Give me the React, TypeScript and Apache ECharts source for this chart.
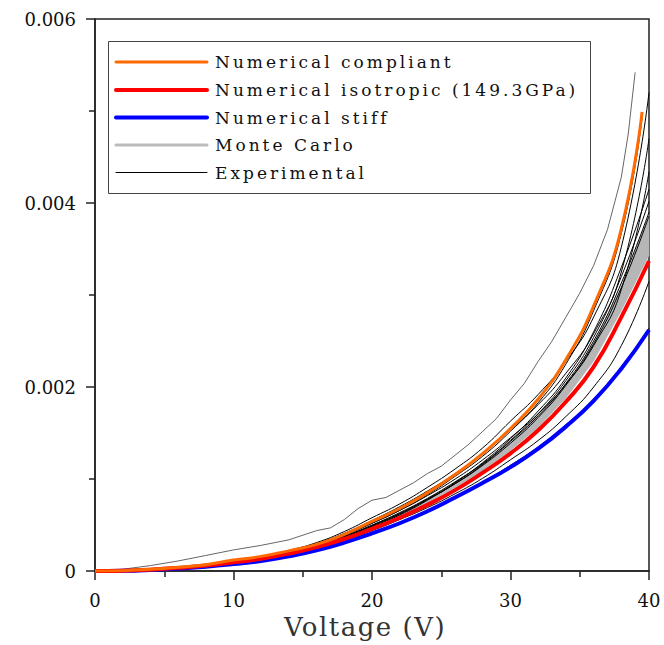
import React, { useEffect, useRef } from "react";
import * as echarts from "echarts";

// ---------- data ----------
const X_TICK_STEP = 10;
const Y_TICK_STEP = 0.002;
const K = 0.001; // the value lists below are written in units of 1e-3

const X_GRID = [0, 2, 4, 6, 8, 10, 12, 14, 16, 18, 20, 22, 24, 26, 28, 30, 32, 34, 36, 38, 40];
const X_ORANGE = [0, 2, 4, 6, 8, 10, 12, 14, 16, 18, 20, 22, 24, 26, 28, 30, 32, 34, 36, 38, 39.5];

const ORANGE = [0, 0.005, 0.02, 0.042, 0.07, 0.12, 0.16, 0.22, 0.29, 0.4, 0.54, 0.68, 0.85, 1.05, 1.28, 1.55, 1.87, 2.3, 2.88, 3.72, 4.99];
const RED = [0, 0.004, 0.016, 0.035, 0.06, 0.095, 0.135, 0.19, 0.26, 0.35, 0.46, 0.58, 0.72, 0.88, 1.07, 1.28, 1.53, 1.84, 2.22, 2.76, 3.37];
const BLUE = [0, 0.003, 0.013, 0.028, 0.048, 0.076, 0.11, 0.16, 0.225, 0.31, 0.41, 0.52, 0.65, 0.8, 0.96, 1.13, 1.33, 1.57, 1.85, 2.2, 2.62];

const MC_LOW = [0, 0.004, 0.016, 0.036, 0.061, 0.097, 0.137, 0.195, 0.265, 0.355, 0.47, 0.595, 0.74, 0.905, 1.09, 1.31, 1.56, 1.88, 2.28, 2.83, 3.43];
const MC_HIGH = [0, 0.004, 0.017, 0.038, 0.065, 0.102, 0.145, 0.205, 0.28, 0.38, 0.5, 0.635, 0.79, 0.97, 1.17, 1.4, 1.68, 2.02, 2.47, 3.09, 3.88];

const EXP_A = [0, 0.005, 0.02, 0.042, 0.07, 0.11, 0.16, 0.225, 0.31, 0.43, 0.58, 0.73, 0.91, 1.11, 1.34, 1.63, 1.92, 2.28, 2.76, 3.52, 5.2];
const EXP_K = [0, 0.005, 0.019, 0.04, 0.07, 0.105, 0.155, 0.215, 0.3, 0.41, 0.55, 0.7, 0.87, 1.06, 1.28, 1.54, 1.81, 2.15, 2.58, 3.25, 4.7];
const EXP_C = [0, 0.005, 0.018, 0.038, 0.065, 0.1, 0.15, 0.21, 0.29, 0.39, 0.52, 0.66, 0.82, 1.0, 1.21, 1.45, 1.71, 2.03, 2.45, 3.06, 4.34];
const EXP_G = [0, 0.004, 0.016, 0.035, 0.06, 0.095, 0.138, 0.195, 0.27, 0.36, 0.48, 0.61, 0.77, 0.96, 1.18, 1.44, 1.74, 2.1, 2.6, 3.3, 4.15];
const EXP_D = [0, 0.004, 0.017, 0.037, 0.063, 0.099, 0.145, 0.205, 0.28, 0.38, 0.5, 0.635, 0.79, 0.97, 1.17, 1.42, 1.71, 2.07, 2.54, 3.2, 4.02];
const EXP_E = [0, 0.004, 0.016, 0.036, 0.06, 0.097, 0.14, 0.2, 0.27, 0.37, 0.49, 0.62, 0.78, 0.95, 1.16, 1.41, 1.69, 2.04, 2.5, 3.13, 3.9];
const EXP_F = [0, 0.004, 0.017, 0.037, 0.062, 0.098, 0.142, 0.2, 0.275, 0.37, 0.495, 0.625, 0.78, 0.95, 1.15, 1.39, 1.67, 2.02, 2.47, 3.08, 3.86];
const EXP_H = [0, 0.004, 0.014, 0.032, 0.055, 0.088, 0.13, 0.18, 0.25, 0.335, 0.44, 0.56, 0.69, 0.84, 1.01, 1.21, 1.42, 1.68, 2.0, 2.45, 3.15];
const EXP_I = [0, 0.003, 0.013, 0.029, 0.05, 0.078, 0.112, 0.162, 0.228, 0.315, 0.415, 0.525, 0.66, 0.81, 0.97, 1.15, 1.35, 1.59, 1.87, 2.22, 2.64];
const EXP_B = [0, 0.004, 0.018, 0.04, 0.068, 0.115, 0.155, 0.215, 0.285, 0.39, 0.52, 0.66, 0.83, 1.03, 1.25, 1.52, 1.83, 2.25, 2.83, 3.67, 4.93];

const OUT_X = [0, 2, 4, 6, 8, 10, 12, 14, 16, 17, 18, 19, 20, 21, 22, 23, 24, 25, 26, 27, 28, 29, 30, 31, 32, 33, 34, 35, 36, 37, 38, 38.5, 39];
const OUT_Y = [0, 0.02, 0.06, 0.11, 0.17, 0.23, 0.28, 0.34, 0.44, 0.47, 0.56, 0.68, 0.77, 0.8, 0.88, 0.96, 1.06, 1.14, 1.26, 1.38, 1.52, 1.66, 1.86, 2.04, 2.28, 2.5, 2.76, 3.02, 3.32, 3.71, 4.28, 4.75, 5.42];

const LEGEND_NAMES = [
  "Numerical compliant",
  "Numerical isotropic (149.3GPa)",
  "Numerical stiff",
  "Monte Carlo",
  "Experimental",
];
const LEGEND_COLORS = ["#ff6a00", "#ff0000", "#0000ff", "#bbbbbb", "#000000"];
const LEGEND_WIDTHS = [3, 4, 4, 3, 1];

const FONT = "DejaVu Serif";

export default function App() {
  const ref = useRef<HTMLDivElement>(null);

  useEffect(() => {
    const chart = echarts.init(ref.current!, null, { renderer: "svg" });
    const pairs = (xs: number[], ys: number[]) => ys.map((y, i) => [xs[i], y * K]);

    const smoothLine = (data: number[][], color: string, width: number, z: number, name?: string) => ({
      type: "line",
      name,
      data,
      symbol: "none",
      smooth: 0.5,
      silent: true,
      z,
      lineStyle: { color, width },
    });

    const bandData = X_GRID.map((x, i) => [x, MC_LOW[i] * K, MC_HIGH[i] * K]);

    const series: any[] = [
      {
        type: "custom",
        name: "Monte Carlo",
        silent: true,
        z: 2,
        data: bandData,
        encode: { x: 0, y: [1, 2] },
        renderItem: (params: any, api: any) => {
          if (params.dataIndex !== 0) return null;
          const upper = bandData.map((d) => api.coord([d[0], d[2]]));
          const lower = bandData.map((d) => api.coord([d[0], d[1]])).reverse();
          return {
            type: "polygon",
            shape: { points: upper.concat(lower), smooth: 0 },
            style: { fill: "#b6b6b6", stroke: "#b6b6b6", lineWidth: 0.5 },
          };
        },
      },
      smoothLine(pairs(X_GRID, EXP_A), "#000", 1, 3),
      smoothLine(pairs(X_GRID, EXP_K), "#000", 1, 3),
      smoothLine(pairs(X_GRID, EXP_C), "#000", 1, 3),
      smoothLine(pairs(X_GRID, EXP_G), "#000", 1, 3),
      smoothLine(pairs(X_GRID, EXP_D), "#000", 1, 3),
      smoothLine(pairs(X_GRID, EXP_E), "#000", 1, 3),
      smoothLine(pairs(X_GRID, EXP_F), "#000", 1, 3),
      smoothLine(pairs(X_GRID, EXP_H), "#000", 1, 3),
      smoothLine(pairs(X_GRID, EXP_I), "#000", 1, 3),
      smoothLine(pairs(X_ORANGE, EXP_B), "#000", 1, 3),
      {
        type: "line",
        data: pairs(OUT_X, OUT_Y),
        symbol: "none",
        smooth: false,
        silent: true,
        z: 3,
        lineStyle: { color: "#666", width: 1 },
      },
      smoothLine(pairs(X_GRID, BLUE), LEGEND_COLORS[2], 4, 5, LEGEND_NAMES[2]),
      smoothLine(pairs(X_GRID, RED), LEGEND_COLORS[1], 4, 5, LEGEND_NAMES[1]),
      smoothLine(pairs(X_ORANGE, ORANGE), LEGEND_COLORS[0], 3, 5, LEGEND_NAMES[0]),
    ];

    const rowY = [62, 90, 117.5, 145, 172.5];
    const legendChildren: any[] = [
      {
        type: "rect",
        z: 20,
        shape: { x: 108.5, y: 41.5, width: 482, height: 152 },
        style: { fill: "#fff", stroke: "#444", lineWidth: 1 },
      },
    ];
    LEGEND_NAMES.forEach((name, i) => {
      legendChildren.push({
        type: "line",
        z: 21,
        shape: { x1: 116, y1: rowY[i], x2: 207, y2: rowY[i] },
        style: { stroke: LEGEND_COLORS[i], lineWidth: LEGEND_WIDTHS[i], lineCap: "round" },
      });
      legendChildren.push({
        type: "text",
        z: 21,
        x: 215,
        y: rowY[i],
        style: {
          text: name,
          fill: "#111",
          fontSize: 17,
          fontFamily: FONT,
          verticalAlign: "middle",
          align: "left",
        },
      });
    });

    const axisLineStyle = { color: "#222", width: 1.5 };

    chart.setOption({
      animation: false,
      backgroundColor: "#fff",
      grid: {
        left: 95,
        top: 19,
        width: 554,
        height: 555,
        show: true,
        borderColor: "#222",
        borderWidth: 1.5,
        containLabel: false,
      },
      xAxis: {
        type: "value",
        min: 0,
        max: 40,
        interval: X_TICK_STEP,
        axisLine: { show: true, onZero: false, lineStyle: axisLineStyle },
        axisTick: { show: true, inside: false, length: 9, lineStyle: axisLineStyle },
        minorTick: { show: true, splitNumber: 2, length: 6, lineStyle: axisLineStyle },
        splitLine: { show: false },
        minorSplitLine: { show: false },
        axisLabel: { fontSize: 18, fontFamily: FONT, color: "#111", margin: 20 },
        name: "Voltage (V)",
        nameLocation: "middle",
        nameGap: 37,
        nameTextStyle: { fontSize: 26, fontFamily: FONT, color: "#333", padding: [0, 14, 0, 0] },
      },
      yAxis: {
        type: "value",
        min: 0,
        max: 0.006,
        interval: Y_TICK_STEP,
        axisLine: { show: true, onZero: false, lineStyle: axisLineStyle },
        axisTick: { show: true, inside: false, length: 9, lineStyle: axisLineStyle },
        minorTick: { show: true, splitNumber: 2, length: 6, lineStyle: axisLineStyle },
        splitLine: { show: false },
        minorSplitLine: { show: false },
        axisLabel: {
          fontSize: 18,
          fontFamily: FONT,
          color: "#111",
          margin: 19,
          formatter: (v: number) => (v === 0 ? "0" : v.toFixed(3)),
        },
      },
      graphic: [{ type: "group", z: 20, children: legendChildren }],
      series,
    });

    return () => chart.dispose();
  }, []);

  return (
    <>
      <style>{`
        #chart-box text[style*="17px"] { letter-spacing: 3px; }
        #chart-box text[style*="26px"] { letter-spacing: 1.5px; }
      `}</style>
      <div
        id="chart-box"
        ref={ref}
        style={{ position: "fixed", left: 0, top: 0, width: 664, height: 645, background: "#fff" }}
      />
    </>
  );
}
